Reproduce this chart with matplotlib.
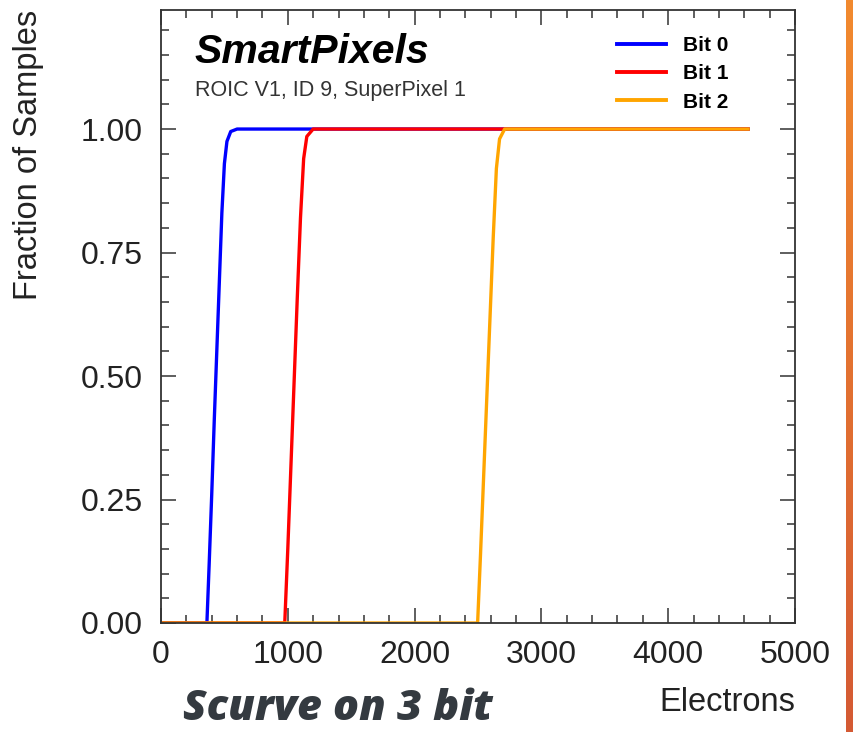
import numpy as np
import matplotlib
matplotlib.use("Agg")
import matplotlib.pyplot as plt
from matplotlib.ticker import MultipleLocator

# S-curves (electrons vs fraction of samples)
blue_x = [0, 362, 380, 400, 420, 440, 460, 480, 500, 520, 550, 600, 4630]
blue_y = [0, 0, 0.12, 0.26, 0.41, 0.55, 0.69, 0.83, 0.93, 0.975, 0.995, 1.0, 1.0]

red_x = [0, 976, 1000, 1025, 1050, 1075, 1100, 1125, 1150, 1200, 4630]
red_y = [0, 0, 0.15, 0.32, 0.49, 0.66, 0.82, 0.94, 0.985, 1.0, 1.0]

orange_x = [0, 2497, 2520, 2545, 2570, 2595, 2620, 2645, 2670, 2710, 4630]
orange_y = [0, 0, 0.14, 0.30, 0.46, 0.62, 0.78, 0.92, 0.98, 1.0, 1.0]

labels = ["Bit 0", "Bit 1", "Bit 2"]
colors = ["#0000ff", "#ff0000", "#ffa500"]

xticks = [0, 1000, 2000, 3000, 4000, 5000]
yticks = [0.0, 0.25, 0.5, 0.75, 1.0]

plt.rcParams['font.family'] = ['Liberation Sans', 'DejaVu Sans']

W, H = 854, 732
fig = plt.figure(figsize=(W/100., H/100.), dpi=100)
ax = fig.add_axes([161/W, 1-623/H, (795-161)/W, (623-10)/H])

for xs, ys, c, lab in zip([blue_x, red_x, orange_x], [blue_y, red_y, orange_y], colors, labels):
    ax.plot(xs, ys, color=c, lw=2.4, label=lab, solid_joinstyle='round')

ax.set_xlim(0, 5000)
ax.set_ylim(0, 1.241)
ax.set_xticks(xticks)
ax.set_yticks(yticks)
ax.set_yticklabels(['%.2f' % v for v in yticks])
ax.xaxis.set_minor_locator(MultipleLocator(200))
ax.yaxis.set_minor_locator(MultipleLocator(0.05))
ax.tick_params(which='both', direction='in', top=True, right=True,
               color='#333333', width=1.1)
ax.tick_params(which='major', length=11, labelsize=23, labelcolor='#222222')
ax.tick_params(axis='y', which='major', pad=13)
ax.tick_params(axis='x', which='major', pad=12)
ax.tick_params(which='minor', length=5.5)
for sp in ax.spines.values():
    sp.set_color('#333333')
    sp.set_linewidth(1.3)

ax.set_ylabel('Fraction of Samples', fontsize=23.5, color='#222222', loc='top')
ax.yaxis.set_label_coords(-0.185, 1.0)
ax.set_xlabel('Electrons', fontsize=23.5, color='#222222', loc='right')
ax.xaxis.set_label_coords(1.0, -0.105)

fig.text(195/W, 1-63/H, 'SmartPixels', fontsize=29.5, fontweight='bold',
         fontstyle='italic', color='black', va='baseline')
fig.text(195/W, 1-96/H, 'ROIC V1, ID 9, SuperPixel 1', fontsize=15.5,
         color='#333333', va='baseline')

leg = ax.legend(loc='upper left', bbox_to_anchor=(617/W, 1-36/H),
                bbox_transform=fig.transFigure, frameon=False,
                borderpad=0, borderaxespad=0, handlelength=2.35,
                handletextpad=0.8, labelspacing=0.45,
                prop={'size': 15, 'weight': 'bold'})
for lh in leg.get_lines():
    lh.set_linewidth(2.8)

fig.text(183/W, 1-720/H, 'Scurve on 3 bit', fontsize=31, fontweight=800,
         fontstyle='italic', color='#343a40', va='baseline',
         family=['Open Sans', 'DejaVu Sans'])

# orange strip on the right edge
grad = np.linspace(0, 1, 256).reshape(-1, 1)
cmap = matplotlib.colors.LinearSegmentedColormap.from_list('strip', ['#f28a2e', '#d45a34'])
sax = fig.add_axes([846/W, 0, 7/W, 1])
sax.imshow(grad, aspect='auto', cmap=cmap)
sax.axis('off')

fig.savefig('out.png', dpi=100)
